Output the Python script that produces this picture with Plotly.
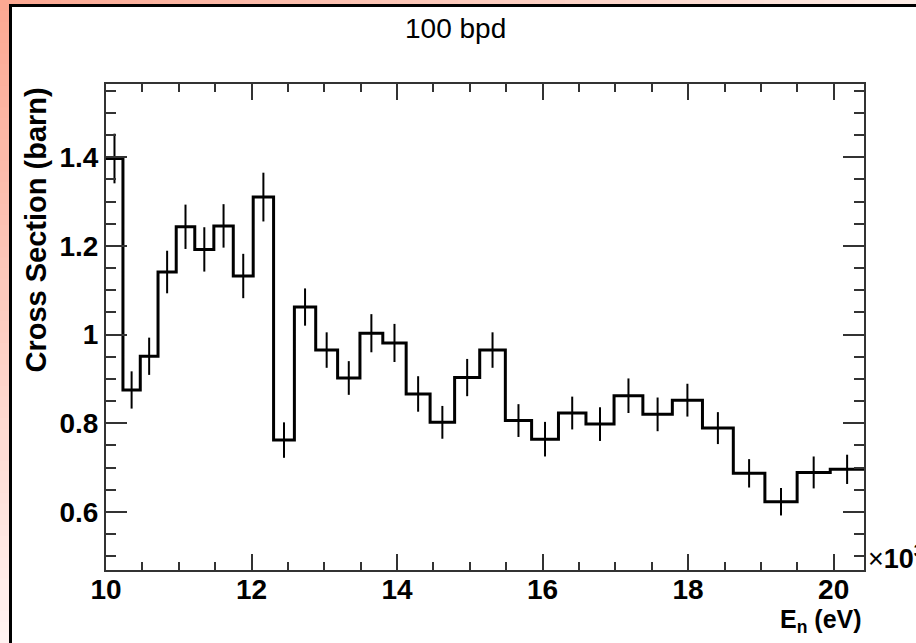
import plotly.graph_objects as go

# Neutron energy bin edges (keV), 100 bins per decade
bin_edges = [10.000, 10.233, 10.471, 10.715, 10.965, 11.220, 11.482, 11.749,
             12.023, 12.303, 12.589, 12.882, 13.183, 13.490, 13.804, 14.125,
             14.454, 14.791, 15.136, 15.488, 15.849, 16.218, 16.596, 16.982,
             17.378, 17.783, 18.197, 18.621, 19.055, 19.498, 19.953, 20.417]

# Cross section per bin (barn) and its uncertainty
cross_section = [1.397, 0.875, 0.951, 1.141, 1.243, 1.192, 1.245, 1.132,
                 1.310, 0.762, 1.062, 0.965, 0.902, 1.003, 0.981, 0.866,
                 0.802, 0.903, 0.965, 0.806, 0.764, 0.823, 0.798, 0.862,
                 0.820, 0.852, 0.789, 0.687, 0.623, 0.689, 0.696]
cross_error = [0.056, 0.042, 0.042, 0.048, 0.050, 0.050, 0.049, 0.050,
               0.055, 0.040, 0.042, 0.040, 0.038, 0.043, 0.043, 0.040,
               0.037, 0.042, 0.040, 0.037, 0.039, 0.037, 0.038, 0.039,
               0.038, 0.037, 0.036, 0.032, 0.031, 0.036, 0.033]

x_ticks = [10, 12, 14, 16, 18, 20]
y_ticks = [0.6, 0.8, 1.0, 1.2, 1.4]

W, H = 916, 643
ML, MR, MT, MB = 106, 52, 84, 73
PW, PH = W - ML - MR, H - MT - MB
FONT = "Liberation Sans, Arial, Helvetica, sans-serif"


def px(x):
    return (x - ML) / PW


def py(y):
    return (H - MB - y) / PH


centers = [(a + b) / 2 for a, b in zip(bin_edges[:-1], bin_edges[1:])]

fig = go.Figure()

# step outline of the histogram
fig.add_trace(go.Scatter(
    x=bin_edges, y=cross_section + [cross_section[-1]],
    mode="lines", line=dict(color="black", width=3, shape="hv"),
    hoverinfo="skip", showlegend=False, cliponaxis=True))

# vertical error bars at bin centres
fig.add_trace(go.Scatter(
    x=centers, y=cross_section, mode="markers",
    marker=dict(size=1, color="black"),
    error_y=dict(type="data", array=cross_error, visible=True,
                 color="black", thickness=2, width=0),
    showlegend=False))

# canvas decoration: salmon gradient frame and white pad with black border
shapes = []
c0 = (252, 168, 146)
c_top = (253, 236, 230)
c_left = (255, 243, 241)
N = 60
for i in range(N):
    t = i / (N - 1)
    col = tuple(round(c0[k] + (c_top[k] - c0[k]) * t) for k in range(3))
    shapes.append(dict(type="rect", xref="paper", yref="paper", layer="below",
                       x0=px(W * i / N), x1=px(W * (i + 1) / N + 1),
                       y0=py(0), y1=py(6), line=dict(width=0),
                       fillcolor="rgb(%d,%d,%d)" % col))
    col = tuple(round(c0[k] + (c_left[k] - c0[k]) * t) for k in range(3))
    shapes.append(dict(type="rect", xref="paper", yref="paper", layer="below",
                       x0=px(0), x1=px(10),
                       y0=py(H * i / N), y1=py(H * (i + 1) / N + 1),
                       line=dict(width=0),
                       fillcolor="rgb(%d,%d,%d)" % col))
shapes.append(dict(type="rect", xref="paper", yref="paper", layer="below",
                   x0=px(10.5), x1=px(W + 20), y0=py(5.5), y1=py(H + 20),
                   line=dict(color="black", width=3), fillcolor="white"))

annotations = [
    dict(text="100 bpd", xref="paper", yref="paper", x=px(455), y=py(28),
         xanchor="center", yanchor="middle", showarrow=False,
         font=dict(family=FONT, size=28, color="black")),
    dict(text="<b>Cross Section (barn)</b>", xref="paper", yref="paper",
         x=px(35), y=py(86), xanchor="center", yanchor="top", textangle=-90,
         showarrow=False, font=dict(family=FONT, size=29, color="black")),
    dict(text="<b>E<sub>n</sub> (eV)</b>", xref="paper", yref="paper",
         x=px(864), y=py(621), xanchor="right", yanchor="middle",
         showarrow=False, font=dict(family=FONT, size=25, color="black")),
    dict(text="×<b>10<sup>3</sup></b>", xref="paper", yref="paper",
         x=px(866), y=py(557), xanchor="left", yanchor="middle",
         showarrow=False, font=dict(family=FONT, size=27, color="black")),
]

axis_common = dict(showline=True, linewidth=2, linecolor="#333333",
                   mirror="ticks", ticks="inside", tickcolor="#333333",
                   tickwidth=1.5, showgrid=False, zeroline=False,
                   tickfont=dict(family=FONT, size=28, color="black",
                                 weight="bold"))

fig.update_xaxes(range=[bin_edges[0], bin_edges[-1]], tickmode="array",
                 tickvals=x_ticks, ticktext=[str(v) for v in x_ticks],
                 ticklen=16, ticklabelstandoff=-7,
                 minor=dict(dtick=0.5, tick0=10, ticklen=8, ticks="inside",
                            tickcolor="#333333", tickwidth=1.5),
                 **axis_common)
fig.update_yaxes(range=[0.469, 1.565], tickmode="array",
                 tickvals=y_ticks, ticktext=["0.6", "0.8", "1", "1.2", "1.4"],
                 ticklen=21,
                 minor=dict(dtick=0.05, tick0=0.5, ticklen=10, ticks="inside",
                            tickcolor="#333333", tickwidth=1.5),
                 **axis_common)

fig.update_layout(width=W, height=H,
                  margin=dict(l=ML, r=MR, t=MT, b=MB, pad=0),
                  paper_bgcolor="white", plot_bgcolor="white",
                  shapes=shapes, annotations=annotations,
                  showlegend=False)

fig.write_html("out.html")
